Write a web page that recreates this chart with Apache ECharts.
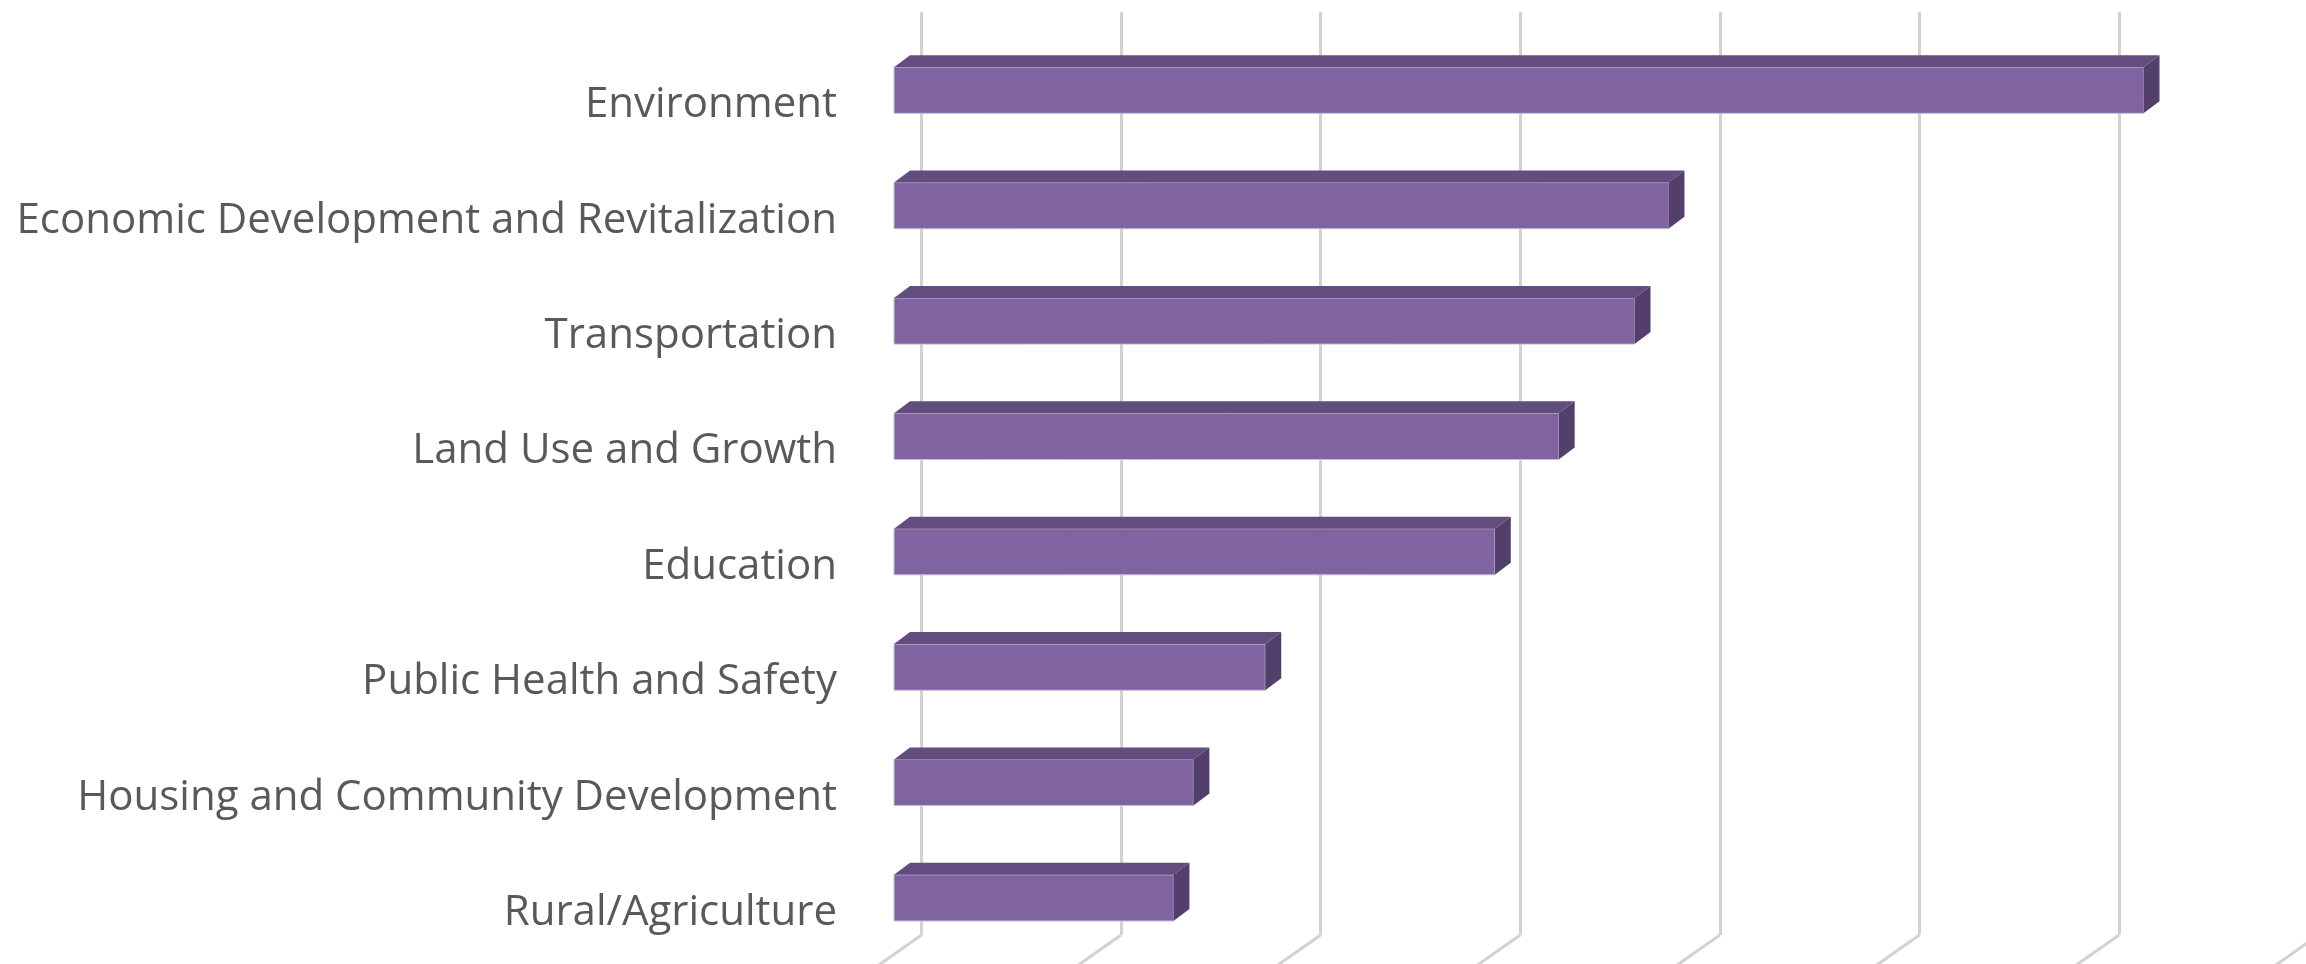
<!DOCTYPE html>
<html>
<head>
<meta charset="utf-8">
<title>Issue areas</title>
<script src="https://cdn.jsdelivr.net/npm/echarts@6/dist/echarts.min.js"></script>
<style>
  html, body { margin: 0; padding: 0; background: #fff; }
  #chart { width: 2306px; height: 964px; }
</style>
</head>
<body>
<div id="chart"></div>
<script>
  // categories, top to bottom
  var categories = [
    'Environment',
    'Economic Development and Revitalization',
    'Transportation',
    'Land Use and Growth',
    'Education',
    'Public Health and Safety',
    'Housing and Community Development',
    'Rural/Agriculture'
  ];
  // values (no axis labels in the original)
  var values = [62.6, 38.8, 37.1, 33.3, 30.1, 18.6, 15.0, 14.0];
  // back wall gridline positions
  var gridTicks = [0, 10, 20, 30, 40, 50, 60, 70];

  var DEPTH_X = 16, DEPTH_Y = 12;   // bar depth in the oblique view
  var FRONT = '#8064A2', TOP = '#634D7E', SIDE = '#533F6B';

  var myChart = echarts.init(document.getElementById('chart'));

  var option = {
    animation: false,
    grid: [
      // front plane, where bars sit
      { left: 894, top: 32.6, width: 1397.2, height: 923, outerBoundsMode: 'none' },
      // back wall, holds the gridlines (runs past the right edge like the original)
      { left: 921.5, top: 12, width: 1397.2, height: 923, outerBoundsMode: 'none' }
    ],
    xAxis: [{
      gridIndex: 0, type: 'value', min: 0, max: 70, interval: 10,
      axisLine: { show: false }, axisTick: { show: false },
      axisLabel: { show: false }, splitLine: { show: false }
    }, {
      gridIndex: 1, type: 'value', min: 0, max: 70, interval: 10,
      axisLine: { show: false }, axisTick: { show: false },
      axisLabel: { show: false },
      splitLine: { show: true, lineStyle: { color: '#D2D2D2', width: 3 } }
    }],
    yAxis: [{
      gridIndex: 0, type: 'category', inverse: true, data: categories,
      axisLine: { show: false }, axisTick: { show: false },
      axisLabel: {
        color: '#595959', fontFamily: 'Open Sans', fontSize: 42,
        margin: 57, verticalAlign: 'top', lineHeight: 30
      }
    }, {
      gridIndex: 1, type: 'value', min: 0, max: 1, show: false
    }],
    series: [{
      // floor lines running forward from the bottom of the wall
      type: 'custom',
      xAxisIndex: 1, yAxisIndex: 1,
      clip: false, z: 1,
      data: gridTicks,
      renderItem: function (params, api) {
        var p = api.coord([api.value(0), 0]);
        return {
          type: 'line',
          shape: { x1: p[0], y1: p[1], x2: p[0] - 57, y2: p[1] + 40 },
          style: { stroke: '#D2D2D2', lineWidth: 3 }
        };
      }
    }, {
      type: 'custom',
      xAxisIndex: 0, yAxisIndex: 0,
      clip: false, z: 3,
      data: values.map(function (v, i) { return [v, i]; }),
      renderItem: function (params, api) {
        var start = api.coord([0, api.value(1)]);
        var end = api.coord([api.value(0), api.value(1)]);
        var h = api.size([0, 1])[1] * 0.4;
        var x0 = start[0], x1 = end[0];
        var yT = start[1] - h / 2, yB = start[1] + h / 2;
        return {
          type: 'group',
          children: [{
            type: 'rect',
            shape: { x: x0, y: yT, width: x1 - x0, height: h },
            style: { fill: FRONT, stroke: '#C9BED8', lineWidth: 1 }
          }, {
            type: 'polygon',
            shape: { points: [[x0, yT], [x0 + DEPTH_X, yT - DEPTH_Y], [x1 + DEPTH_X, yT - DEPTH_Y], [x1, yT]] },
            style: { fill: TOP }
          }, {
            type: 'polygon',
            shape: { points: [[x1, yT], [x1 + DEPTH_X, yT - DEPTH_Y], [x1 + DEPTH_X, yB - DEPTH_Y], [x1, yB]] },
            style: { fill: SIDE }
          }]
        };
      }
    }]
  };

  myChart.setOption(option);
</script>
</body>
</html>
